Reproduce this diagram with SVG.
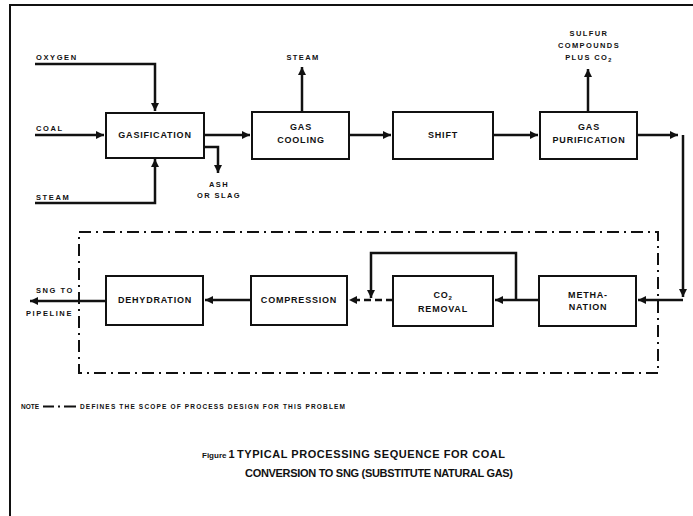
<svg xmlns="http://www.w3.org/2000/svg" width="693" height="516" viewBox="0 0 693 516">
<style>
  text { font-family: "Liberation Sans", Arial, sans-serif; font-weight: bold; fill: #111; }
  .box { fill: #fff; stroke: #111; stroke-width: 2; }
  .bt { font-size: 9px; letter-spacing: 0.8px; text-anchor: middle; }
  .lab { font-size: 7.5px; letter-spacing: 1.6px; }
  .labm { font-size: 7.5px; letter-spacing: 1.4px; text-anchor: middle; }
  .con { fill: none; stroke: #111; stroke-width: 2.5; }
  .dash { stroke-dasharray: 7 4; }
  .scope { fill: none; stroke: #111; stroke-width: 2; stroke-dasharray: 12 5 2 5; }
  .frame { fill: none; stroke: #111; stroke-width: 2; }
  .cap { font-size: 11px; }
  .note { font-size: 6.5px; }
</style>
<defs>
  <marker id="ah" markerUnits="userSpaceOnUse" markerWidth="10" markerHeight="10" refX="8" refY="4" orient="auto">
    <path d="M0,0 L8,4 L0,8 z" fill="#111"/>
  </marker>
</defs>

<path class="frame" d="M10,516 V5 H693"/>

<rect class="scope" x="79" y="232" width="579" height="141"/>

<g id="connectors">
  <path class="con" d="M35,64 H155 V111" marker-end="url(#ah)"/>
  <path class="con" d="M35,135 H104" marker-end="url(#ah)"/>
  <path class="con" d="M35,203 H155 V159" marker-end="url(#ah)"/>
  <path class="con" d="M204,135 H250" marker-end="url(#ah)"/>
  <path class="con" d="M204,147 H218 V173" marker-end="url(#ah)"/>
  <path class="con" d="M302,112 V67" marker-end="url(#ah)"/>
  <path class="con" d="M349,135 H391" marker-end="url(#ah)"/>
  <path class="con" d="M493,135 H538" marker-end="url(#ah)"/>
  <path class="con" d="M588,112 V69" marker-end="url(#ah)"/>
  <path class="con" d="M637,135 H678" marker-end="url(#ah)"/>
  <path class="con" d="M683,135 V297" marker-end="url(#ah)"/>
  <path class="con" d="M683,300 H638" marker-end="url(#ah)"/>
  <path class="con" d="M539,300 H495" marker-end="url(#ah)"/>
  <path class="con" d="M516,300 V253 H371 V298" marker-end="url(#ah)"/>
  <path class="con dash" d="M393,300 H349" marker-end="url(#ah)"/>
  <path class="con" d="M251,300 H205" marker-end="url(#ah)"/>
  <path class="con" d="M106,301 H30" marker-end="url(#ah)"/>
</g>

<g id="gasification">
  <rect class="box" x="106" y="113" width="98" height="45"/>
  <text class="bt" x="155" y="138">GASIFICATION</text>
</g>
<g id="gas-cooling">
  <rect class="box" x="252" y="112" width="97" height="47"/>
  <text class="bt" x="301" y="130">GAS</text>
  <text class="bt" x="301" y="143">COOLING</text>
</g>
<g id="shift">
  <rect class="box" x="393" y="112" width="100" height="47"/>
  <text class="bt" x="443" y="138">SHIFT</text>
</g>
<g id="gas-purification">
  <rect class="box" x="540" y="112" width="97" height="47"/>
  <text class="bt" x="589" y="130">GAS</text>
  <text class="bt" x="589" y="143">PURIFICATION</text>
</g>
<g id="methanation">
  <rect class="box" x="539" y="276" width="97" height="50"/>
  <text class="bt" x="588" y="298">METHA-</text>
  <text class="bt" x="588" y="310">NATION</text>
</g>
<g id="co2-removal">
  <rect class="box" x="393" y="276" width="100" height="50"/>
  <text class="bt" x="443" y="298">CO<tspan font-size="6" dy="2">2</tspan></text>
  <text class="bt" x="443" y="312">REMOVAL</text>
</g>
<g id="compression">
  <rect class="box" x="251" y="276" width="96" height="49"/>
  <text class="bt" x="299" y="303">COMPRESSION</text>
</g>
<g id="dehydration">
  <rect class="box" x="106" y="276" width="97" height="49"/>
  <text class="bt" x="155" y="303">DEHYDRATION</text>
</g>

<g id="labels">
  <text class="lab" x="36" y="60">OXYGEN</text>
  <text class="lab" x="36" y="131">COAL</text>
  <text class="lab" x="36" y="200">STEAM</text>
  <text class="labm" x="303" y="60">STEAM</text>
  <text class="labm" x="219" y="187">ASH</text>
  <text class="labm" x="219" y="198">OR SLAG</text>
  <text class="labm" x="589" y="36">SULFUR</text>
  <text class="labm" x="589" y="48">COMPOUNDS</text>
  <text class="labm" x="589" y="60">PLUS CO<tspan font-size="5.5" dy="2">2</tspan></text>
  <text class="lab" x="36" y="293" textLength="38">SNG TO</text>
  <text class="lab" x="26" y="316" textLength="47">PIPELINE</text>
</g>

<g id="note">
  <text class="note" x="21" y="409" textLength="18">NOTE</text>
  <path d="M43,406.5 H54 M58,406.5 H60 M64,406.5 H76" stroke="#111" stroke-width="2" fill="none"/>
  <text class="note" x="80" y="409" textLength="265">DEFINES THE SCOPE OF PROCESS DESIGN FOR THIS PROBLEM</text>
</g>

<g id="caption">
  <text x="202" y="458" font-size="8">Figure<tspan font-size="11" dx="2">1</tspan></text>
  <text class="cap" x="237" y="458" textLength="268">TYPICAL PROCESSING SEQUENCE FOR COAL</text>
  <text class="cap" x="245" y="477" textLength="268">CONVERSION TO SNG (SUBSTITUTE NATURAL GAS)</text>
</g>
</svg>
